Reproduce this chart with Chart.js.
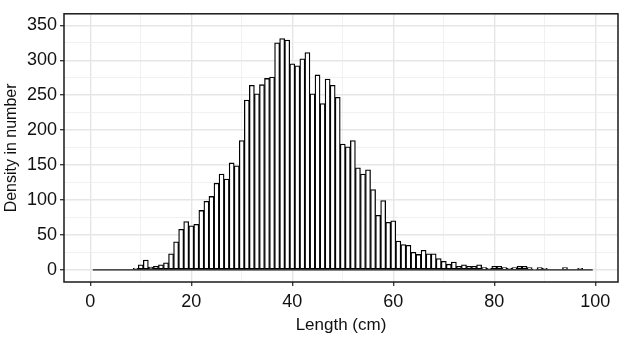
<!DOCTYPE html>
<html>
<head>
<meta charset="utf-8">
<script src="https://cdn.jsdelivr.net/npm/chart.js@4.4.1/dist/chart.umd.min.js"></script>
<style>
  html, body { margin: 0; padding: 0; background: #ffffff; }
  #wrap { width: 624px; height: 337px; }
</style>
</head>
<body>
<div id="wrap"><canvas id="c" width="624" height="337"></canvas></div>
<script>
// ---- data (1-cm length bins, bin centres) ----
const lengthBins = [];
for (let k = 1; k <= 99; k++) lengthBins.push(k);

const densityValues = [
  0, 0, 0, 0, 0, 0, 0, 0, 2, 7,          // 1-10
  14, 4, 5, 7, 10, 23, 40, 58, 69, 63,   // 11-20
  65, 85, 98, 105, 124, 137, 130, 153, 149, 185, // 21-30
  243, 264, 252, 265, 274, 276, 325, 331, 329, 295, // 31-40
  292, 302, 311, 252, 279, 238, 273, 264, 247, 180, // 41-50
  176, 185, 146, 137, 143, 115, 78, 99, 68, 70,     // 51-60
  41, 36, 35, 25, 22, 28, 23, 23, 16, 12,           // 61-70
  8, 11, 5, 7, 5, 5, 7, 3, 2, 5,                    // 71-80
  5, 3, 2, 3, 5, 5, 3, 1, 3, 2,                     // 81-90
  0, 0, 0, 3, 0, 0, 2, 0, 0                         // 91-99
];

const xTickLabels = [0, 20, 40, 60, 80, 100];
const yTickLabels = [0, 50, 100, 150, 200, 250, 300, 350];

const xLabel = 'Length (cm)';
const yLabel = 'Density in number';

// ---- derived structures ----
const barData = lengthBins.map((b, i) => ({ x: b, y: densityValues[i] }));
const binHalf = (lengthBins[1] - lengthBins[0]) / 2;
const baseLine = [
  { x: lengthBins[0] - binHalf, y: 0 },
  { x: lengthBins[lengthBins.length - 1] + binHalf, y: 0 }
];

function withMinor(major) {
  const out = [];
  for (let i = 0; i < major.length; i++) {
    out.push(major[i]);
    if (i < major.length - 1) out.push((major[i] + major[i + 1]) / 2);
  }
  return out;
}
const xAll = withMinor(xTickLabels);
const yAll = withMinor(yTickLabels);

const FONT = '"Liberation Sans", Arial, Helvetica, sans-serif';

const panelBorder = {
  id: 'panelBorder',
  afterDraw(chart) {
    const a = chart.chartArea;
    const ctx = chart.ctx;
    ctx.save();
    ctx.strokeStyle = '#1a1a1a';
    ctx.lineWidth = 1.5;
    ctx.strokeRect(a.left, a.top, a.right - a.left, a.bottom - a.top);
    ctx.restore();
  }
};

const tickVal = (ctx) => (ctx && ctx.tick) ? ctx.tick.value : null;
const isMajor = (list, v) => v !== null && list.indexOf(v) !== -1;

function gridOpts(list) {
  return {
    offset: false,
    drawTicks: true,
    tickLength: 4,
    tickWidth: 1.3,
    tickColor: (ctx) => isMajor(list, tickVal(ctx)) ? '#333333' : 'rgba(0,0,0,0)',
    color: (ctx) => isMajor(list, tickVal(ctx)) ? '#e6e6e6' : '#eeeeee',
    lineWidth: (ctx) => isMajor(list, tickVal(ctx)) ? 1.4 : 0.8
  };
}

new Chart(document.getElementById('c'), {
  type: 'bar',
  data: {
    datasets: [
      {
        type: 'line',
        data: baseLine,
        borderColor: '#1a1a1a',
        borderWidth: 1.2,
        pointRadius: 0,
        fill: false,
        order: 2
      },
      {
        type: 'bar',
        data: barData,
        backgroundColor: '#ffffff',
        borderColor: '#000000',
        borderWidth: 1.3,
        borderSkipped: false,
        barPercentage: 1.0,
        categoryPercentage: 1.0,
        order: 1
      }
    ]
  },
  options: {
    responsive: false,
    animation: false,
    devicePixelRatio: 1,
    layout: { padding: { top: 3, right: 6, left: 0, bottom: 0 } },
    plugins: {
      legend: { display: false },
      tooltip: { enabled: false }
    },
    scales: {
      x: {
        type: 'linear',
        offset: false,
        min: -5.2,
        max: 104.5,
        afterBuildTicks(scale) { scale.ticks = xAll.map(v => ({ value: v })); },
        afterFit(scale) { scale.height = 55; },
        ticks: {
          autoSkip: false,
          maxRotation: 0,
          padding: 5,
          color: '#111111',
          font: { family: FONT, size: 18 },
          callback: (v) => isMajor(xTickLabels, v) ? String(v) : ''
        },
        grid: gridOpts(xTickLabels),
        border: { display: false },
        title: {
          display: true,
          text: xLabel,
          color: '#111111',
          font: { family: FONT, size: 17 },
          padding: { top: 0, bottom: 1 }
        }
      },
      y: {
        type: 'linear',
        offset: false,
        min: -17.5,
        max: 366.5,
        afterBuildTicks(scale) { scale.ticks = yAll.map(v => ({ value: v })); },
        afterFit(scale) { scale.width = 64; },
        ticks: {
          autoSkip: false,
          padding: 3,
          color: '#111111',
          font: { family: FONT, size: 18 },
          callback: (v) => isMajor(yTickLabels, v) ? String(v) : ''
        },
        grid: gridOpts(yTickLabels),
        border: { display: false },
        title: {
          display: true,
          text: yLabel,
          color: '#111111',
          font: { family: FONT, size: 16 },
          padding: { top: 2, bottom: 0 }
        }
      }
    }
  },
  plugins: [panelBorder]
});
</script>
</body>
</html>
